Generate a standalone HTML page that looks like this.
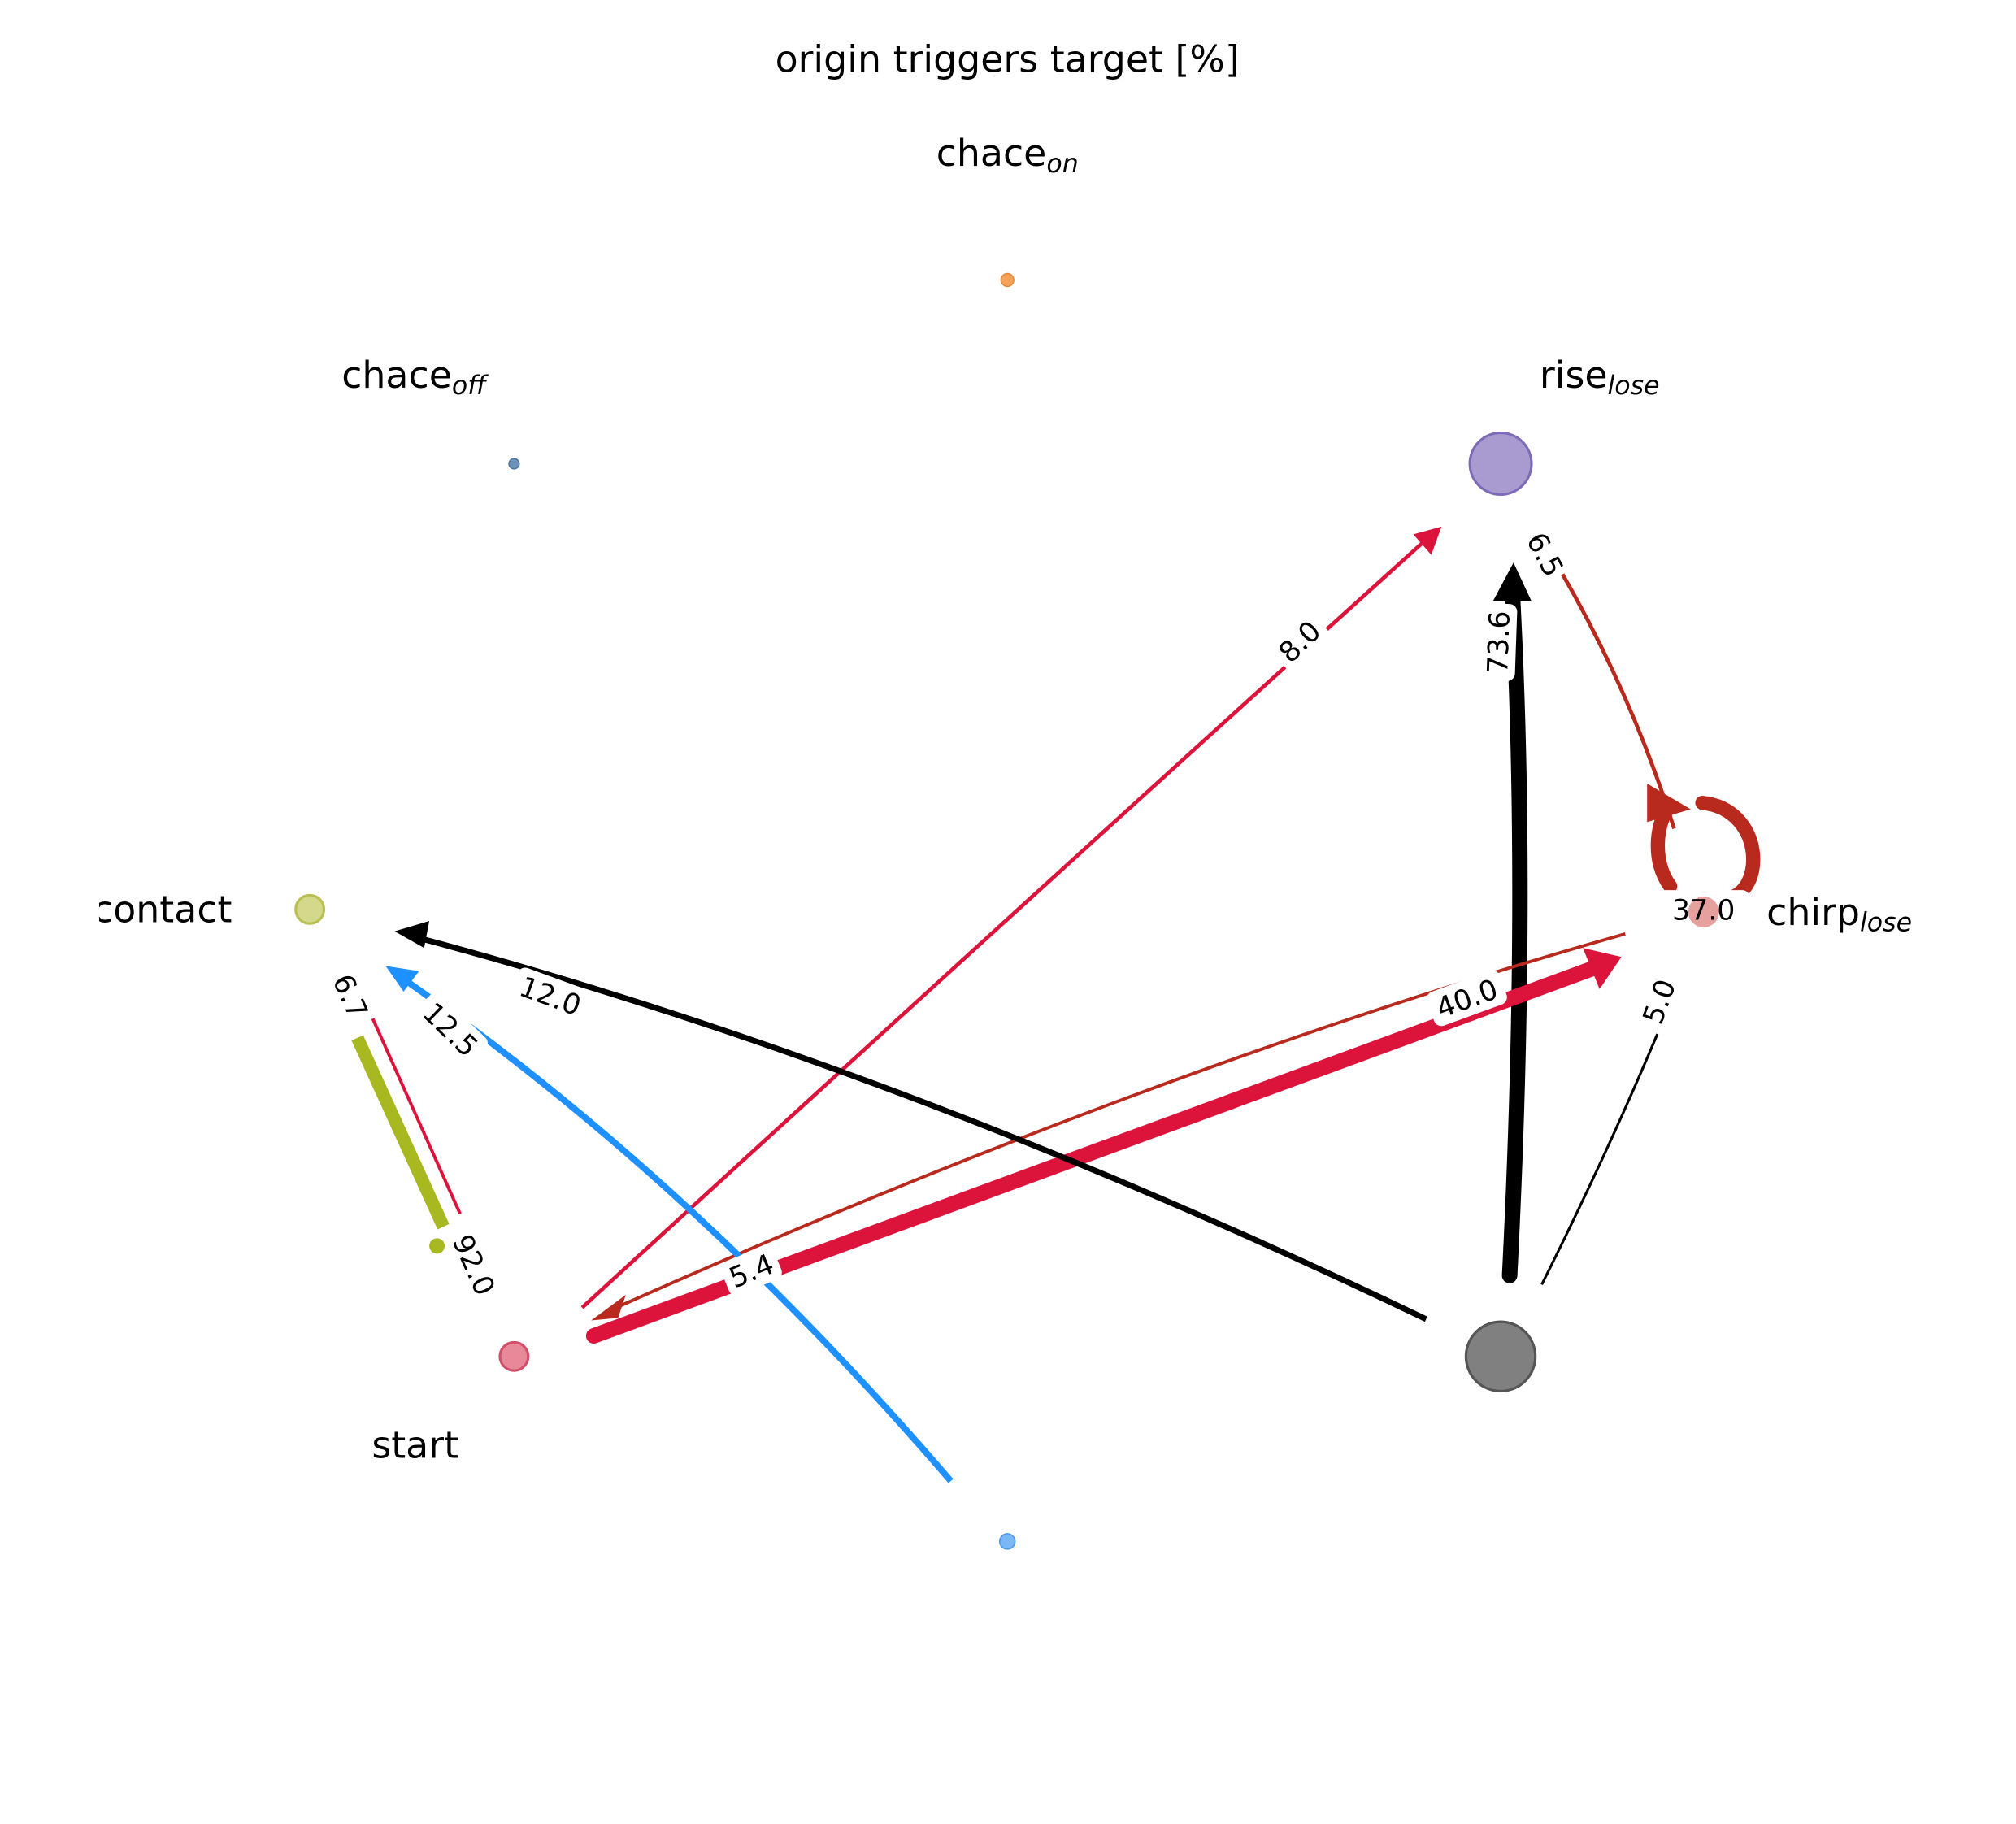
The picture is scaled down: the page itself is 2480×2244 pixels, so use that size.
<!DOCTYPE html>
<html><head><meta charset="utf-8"><style>html,body{margin:0;padding:0;background:#fff}svg{display:block}</style></head>
<body>
<svg width="2480" height="2244" viewBox="0 0 1569 1420" xmlns="http://www.w3.org/2000/svg" font-family="'DejaVu Sans','Liberation Sans',sans-serif">
<rect width="1569" height="1420" fill="#fff"/>
<text x="784" y="56" font-size="29" text-anchor="middle">origin triggers target [%]</text>
<text x="784" y="129" font-size="29" text-anchor="middle">chace<tspan font-size="20" font-style="italic" dy="5">on</tspan></text>
<text x="322" y="302" font-size="29" text-anchor="middle">chace<tspan font-size="20" font-style="italic" dy="5">off</tspan></text>
<text x="1245" y="302" font-size="29" text-anchor="middle">rise<tspan font-size="20" font-style="italic" dy="5">lose</tspan></text>
<text x="72" y="718" font-size="29">contact</text>
<rect x="0" y="680" width="77" height="60" fill="#fff"/>
<text x="1375" y="720" font-size="29">chirp<tspan font-size="20" font-style="italic" dy="5">lose</tspan></text>
<text x="323" y="1135" font-size="29" text-anchor="middle">start</text>
<rect x="1490" y="680" width="79" height="60" fill="#fff"/>

<circle cx="784" cy="218" r="5" fill="#f5a35a" stroke="#e8893a"/>
<circle cx="400" cy="361" r="4" fill="#6f93b8" stroke="#4f79a0"/>
<circle cx="1168" cy="361" r="24" fill="#a99bd0" stroke="#7e6bb8" stroke-width="2"/>
<circle cx="241" cy="708" r="11" fill="#d4d88a" stroke="#b9bf50" stroke-width="2"/>
<circle cx="1326" cy="710" r="12" fill="#e08a86" stroke="#c9605a" stroke-width="2"/>
<circle cx="400" cy="1056" r="11" fill="#e8899a" stroke="#d0506a" stroke-width="2"/>
<circle cx="1168" cy="1056" r="27" fill="#808080" stroke="#555" stroke-width="2"/>
<circle cx="784" cy="1200" r="6" fill="#7ab8f5" stroke="#4a98e8"/>

<path d="M1175,993 Q1190,700 1177,460" fill="none" stroke="#000" stroke-width="12" stroke-linecap="round"/>
<polygon points="1162,468 1178,438 1192,468" fill="#000"/>
<path d="M1265,727 Q900,830 475,1020" fill="none" stroke="#b82a1e" stroke-width="2.5"/>
<polygon points="460,1028 487,1008 481,1026" fill="#b82a1e"/>
<path d="M462,1040 L1245,752" fill="none" stroke="#dc143c" stroke-width="12" stroke-linecap="round"/>
<polygon points="1232,738 1262,745 1245,770" fill="#dc143c"/>
<path d="M453,1018 Q800,700 1110,420" fill="none" stroke="#dc143c" stroke-width="3"/>
<polygon points="1100,416 1122,410 1114,432" fill="#dc143c"/>
<path d="M1110,1027 Q700,830 325,730" fill="none" stroke="#000" stroke-width="4.5"/>
<polygon points="307,725 334,717 330,738" fill="#000"/>
<path d="M740,1153 Q540,920 318,765" fill="none" stroke="#1e90ff" stroke-width="5"/>
<polygon points="300,752 326,756 314,772" fill="#1e90ff"/>
<path d="M345,955 L278,808" fill="none" stroke="#a8b820" stroke-width="10"/>
<circle cx="340" cy="970" r="6" fill="#a8b820"/>
<path d="M290,793 L358,945" fill="none" stroke="#dc143c" stroke-width="2.5"/>
<path d="M1215,445 Q1270,540 1303,645" fill="none" stroke="#b82a1e" stroke-width="3"/>
<path d="M1325,625 C1375,630 1375,700 1340,700 M1300,690 C1285,670 1290,640 1298,630" fill="none" stroke="#b82a1e" stroke-width="11" stroke-linecap="round"/>
<polygon points="1282,610 1316,630 1282,640" fill="#b82a1e"/>
<path d="M1200,1000 Q1250,900 1290,805" fill="none" stroke="#000" stroke-width="2"/>

<g font-size="22" text-anchor="middle">
<g transform="translate(1167,500) rotate(-88)"><rect x="-30" y="-15" width="60" height="28" rx="6" fill="#fff"/><text y="7">73.6</text></g>
<g transform="translate(1142,778) rotate(-20)"><rect x="-30" y="-15" width="60" height="28" rx="6" fill="#fff"/><text y="7">40.0</text></g>
<g transform="translate(585,990) rotate(-22)"><rect x="-22" y="-15" width="44" height="28" rx="6" fill="#fff"/><text y="7">5.4</text></g>
<g transform="translate(1012,500) rotate(-44)"><rect x="-22" y="-15" width="44" height="28" rx="6" fill="#fff"/><text y="7">8.0</text></g>
<g transform="translate(428,776) rotate(20)"><rect x="-30" y="-15" width="60" height="28" rx="6" fill="#fff"/><text y="7">12.0</text></g>
<g transform="translate(350,802) rotate(44)"><rect x="-30" y="-15" width="60" height="28" rx="6" fill="#fff"/><text y="7">12.5</text></g>
<g transform="translate(272,776) rotate(66)"><rect x="-20" y="-15" width="40" height="28" rx="6" fill="#fff"/><text y="7">6.7</text></g>
<g transform="translate(368,985) rotate(66)"><rect x="-28" y="-15" width="56" height="28" rx="6" fill="#fff"/><text y="7">92.0</text></g>
<g transform="translate(1202,432) rotate(62)"><rect x="-20" y="-15" width="40" height="28" rx="6" fill="#fff"/><text y="7">6.5</text></g>
<g transform="translate(1326,708)"><rect x="-36" y="-15" width="72" height="30" rx="6" fill="#fff"/></g>
<circle cx="1326" cy="710" r="12" fill="#e08a86" fill-opacity="0.8"/>
<text x="1326" y="716">37.0</text>
<g transform="translate(1292,780) rotate(-70)"><rect x="-20" y="-15" width="40" height="28" rx="6" fill="#fff"/><text y="7">5.0</text></g>
</g>
</svg>
</body></html>
